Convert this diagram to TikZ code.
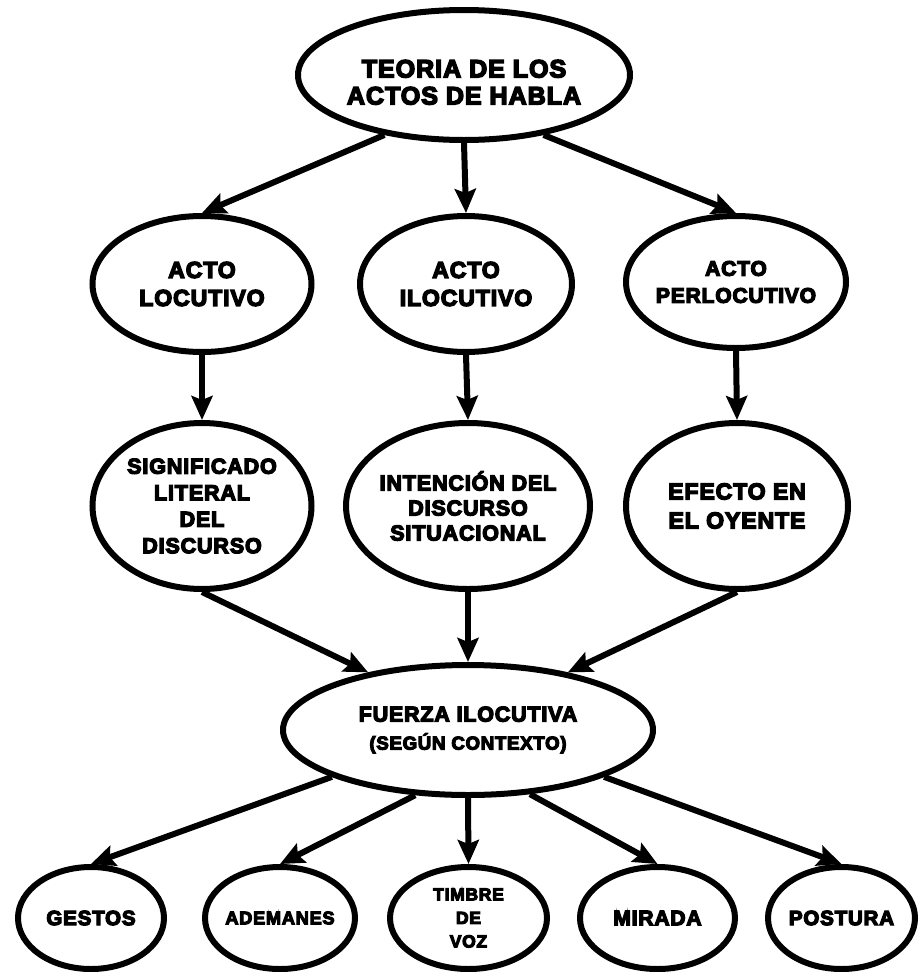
\documentclass[tikz,border=0pt]{standalone}
\usepackage{fontspec}
\newfontfamily\heavy{Liberation Sans Bold}[FakeBold=6, LetterSpace=4]
\usetikzlibrary{shapes.geometric,arrows.meta}
% one centred line of a label that does not widen its oval
\newcommand\cl[1]{\makebox[0pt]{#1}}
\begin{document}
\begin{tikzpicture}[x=1pt,y=-1pt,
  oval/.style={ellipse, draw, line width=6pt, inner sep=0pt, outer sep=3pt, align=center},
  fs/.style 2 args={font=\heavy\fontsize{#1}{#2}\selectfont},
  arr/.style={line width=6pt, -{Stealth[length=24pt,width=21pt,inset=4pt]}},
]
\useasboundingbox (0,0) rectangle (919,972);

% root
\node[oval, fs={25}{27}, minimum width=332pt, minimum height=130pt] (top) at (464,75)
  {\rule{0pt}{32pt}\cl{TEORIA DE LOS}\\\cl{ACTOS DE HABLA}};

% the three acts
\node[oval, fs={23}{28}, minimum width=219pt, minimum height=136pt] (l1) at (202,284)
  {\cl{ACTO}\\\cl{LOCUTIVO}};
\node[oval, fs={23}{28}, minimum width=212pt, minimum height=136pt] (m1) at (466,284)
  {\cl{ACTO}\\\cl{ILOCUTIVO}};
\node[oval, fs={21}{27}, minimum width=220pt, minimum height=132pt] (r1) at (736,282)
  {\cl{ACTO}\\\cl{PERLOCUTIVO}};

% what each act carries
\node[oval, fs={21.5}{26.5}, minimum width=219pt, minimum height=166pt] (l2) at (202,506)
  {\cl{SIGNIFICADO}\\\cl{LITERAL}\\\cl{DEL}\\\cl{DISCURSO}};
\node[oval, fs={21.5}{25}, minimum width=244pt, minimum height=166pt] (m2) at (468,506)
  {\cl{INTENCIÓN DEL}\\\cl{DISCURSO}\\\cl{SITUACIONAL}};
\node[oval, fs={23}{29}, minimum width=222pt, minimum height=166pt] (r2) at (737,506)
  {\cl{EFECTO EN}\\\cl{EL OYENTE}};

% illocutionary force
\node[oval, fs={21.4}{28}, minimum width=370pt, minimum height=130pt] (fz) at (468,730)
  {\cl{FUERZA ILOCUTIVA}\\\cl{\fontsize{18.6}{28}\selectfont (SEGÚN CONTEXTO)}};

% non-verbal cues
\node[oval, fs={20.5}{24}, minimum width=146pt, minimum height=102pt] (b1) at (91,918)
  {\cl{GESTOS}};
\node[oval, fs={18.2}{24}, minimum width=150pt, minimum height=102pt] (b2) at (280,918)
  {\cl{ADEMANES}};
\node[oval, fs={17.5}{23.5}, minimum width=157pt, minimum height=102pt] (b3) at (468.5,918)
  {\cl{TIMBRE}\\\cl{DE}\\\cl{VOZ}};
\node[oval, fs={21}{24}, minimum width=155pt, minimum height=102pt] (b4) at (657.5,918)
  {\cl{MIRADA}};
\node[oval, fs={20.5}{24}, minimum width=147pt, minimum height=102pt] (b5) at (841.5,918)
  {\cl{POSTURA}};

% connectors
\draw[arr] (top.217) -- (l1.north);
\draw[arr] (top.south) -- (m1.north);
\draw[arr] (top.323) -- (r1.north);

\draw[arr] (l1.south) -- (l2.north);
\draw[arr] (m1.south) -- (m2.north);
\draw[arr] (r1.south) -- (r2.north);

\draw[arr] (l2.south) -- (fz.150);
\draw[arr] (m2.south) -- (fz.north);
\draw[arr] (r2.south) -- (fz.30);

\draw[arr] (fz.199) -- (b1.north);
\draw[arr] (fz.231) -- (b2.north);
\draw[arr] (fz.south) -- (b3.north);
\draw[arr] (fz.314) -- (b4.north);
\draw[arr] (fz.341) -- (b5.north);
\end{tikzpicture}
\end{document}
